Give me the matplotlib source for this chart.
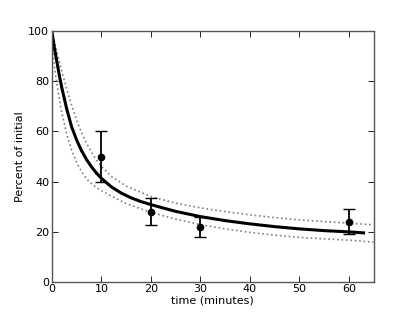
import matplotlib
matplotlib.use("Agg")
import matplotlib.pyplot as plt

# measured data
t_obs = [10, 20, 30, 60]
pct_obs = [50, 28, 22, 24]
pct_err = [10, 5.5, 4, 5]

# fitted curve
t_fit = [0, 0.5, 1, 1.5, 2, 3, 4, 5, 6, 7, 8, 9, 10, 12, 14, 16, 18, 20, 22, 25, 30, 35, 40, 45, 50, 55, 60, 63]
pct_fit = [100, 93.5, 88, 82.5, 77.5, 69, 61.8, 56.6, 52.3, 48.8, 45.9, 43.4, 41.3, 37.9, 35.4, 33.5, 32.0, 30.8, 29.7, 28.1, 26.0, 24.4, 23.1, 22.0, 21.1, 20.4, 19.9, 19.5]

# confidence band
t_band = [0, 0.5, 1, 1.5, 2, 3, 4, 5, 6, 7, 8, 9, 10, 12, 15, 20, 25, 30, 35, 40, 45, 50, 55, 60, 65]
pct_upper = [100, 96, 92, 88, 84, 77, 70.5, 64.5, 59.5, 55.3, 51.7, 48.6, 46.1, 42.1, 38.2, 34.0, 31.4, 29.5, 28.0, 26.7, 25.6, 24.7, 24.0, 23.4, 22.7]
pct_lower = [100, 86, 79, 73, 67.5, 59, 52.5, 47.6, 43.9, 41.1, 39.1, 37.6, 36.4, 34.2, 31.2, 27.7, 25.0, 22.8, 21.1, 19.7, 18.6, 17.7, 17.1, 16.6, 15.8]

xticks = [0, 10, 20, 30, 40, 50, 60]
yticks = [0, 20, 40, 60, 80, 100]

fig = plt.figure(figsize=(4.15, 3.13), dpi=100)
ax = fig.add_axes([0.125, 0.1, 0.775, 0.8])

ax.plot(t_band, pct_upper, linestyle=":", color="#808080", linewidth=1.2)
ax.plot(t_band, pct_lower, linestyle=":", color="#808080", linewidth=1.2)
ax.plot(t_fit, pct_fit, color="black", linewidth=2.2)
ax.errorbar(t_obs, pct_obs, yerr=pct_err, fmt="o", color="black",
            markersize=4.5, elinewidth=1.3, capsize=4, capthick=1.0)

ax.set_xlim(0, 65)
ax.set_ylim(0, 100)
ax.set_xticks(xticks)
ax.set_yticks(yticks)
ax.tick_params(direction="in", top=True, right=True, length=4, width=0.6,
               labelsize=8, pad=2, color="black")
for s in ax.spines.values():
    s.set_color("#555555")
    s.set_linewidth(1.0)
ax.set_xlabel("time (minutes)", fontsize=8, labelpad=1)
ax.set_ylabel("Percent of initial", fontsize=8, labelpad=2)

fig.savefig("out.png", dpi=100)
